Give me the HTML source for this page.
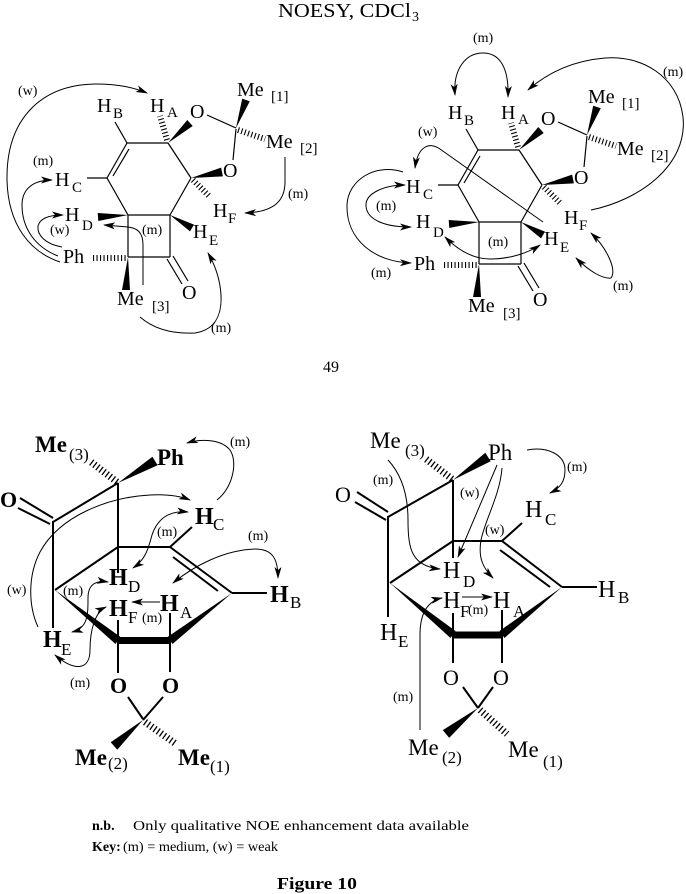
<!DOCTYPE html>
<html>
<head>
<meta charset="utf-8">
<style>
html,body{margin:0;padding:0;background:#fff;}
svg{display:block;}
text{font-family:"Liberation Serif",serif;fill:#000;}
.L{font-size:20px;}
.s{font-size:15px;}
.k{font-size:14px;}
.B{font-size:24px;font-weight:bold;}
.R{font-size:24px;}
.bs{font-size:17px;}
</style>
</head>
<body>
<svg width="686" height="894" viewBox="0 0 686 894" xmlns="http://www.w3.org/2000/svg">
<defs>
<marker id="ah" markerUnits="userSpaceOnUse" markerWidth="12" markerHeight="8" viewBox="0 0 12 8" refX="11" refY="4" orient="auto-start-reverse">
<path d="M0,0.5 L12,4 L0,7.5 L3,4 Z" fill="#000"/>
</marker>
</defs>

<!-- Title -->
<text x="278" y="17" style="font-size:20px" textLength="133" lengthAdjust="spacingAndGlyphs">NOESY, CDCl</text>
<text x="412" y="21" style="font-size:14px">3</text>

<!-- ===== TOP LEFT STRUCTURE ===== -->
<g>
<g stroke="#000" stroke-width="1.2" fill="none">
<line x1="127" y1="143" x2="168" y2="143"/>
<line x1="168" y1="143" x2="191" y2="178"/>
<line x1="191" y1="178" x2="170" y2="215"/>
<line x1="170" y1="215" x2="128" y2="215"/>
<line x1="128" y1="215" x2="107" y2="178"/>
<line x1="107" y1="178" x2="127" y2="143"/>
<line x1="113" y1="176" x2="129" y2="149"/>
<line x1="128" y1="215" x2="128" y2="257"/>
<line x1="128" y1="257" x2="170" y2="257"/>
<line x1="170" y1="257" x2="170" y2="215"/>
<line x1="167" y1="259" x2="182" y2="284"/>
<line x1="173" y1="256" x2="188" y2="281"/>
<line x1="127" y1="143" x2="115" y2="122"/>
<line x1="107" y1="178" x2="87" y2="178"/>
<line x1="207" y1="115" x2="236" y2="128"/>
<line x1="233" y1="160" x2="236" y2="129"/>
</g>
<g stroke="#000" fill="none" stroke-dasharray="1.1 2.4">
<line x1="167" y1="140" x2="160" y2="116" stroke-width="6"/>
<line x1="193" y1="180" x2="209" y2="196" stroke-width="6"/>
<line x1="238" y1="130" x2="265" y2="139" stroke-width="6"/>
<line x1="93" y1="258" x2="127" y2="258" stroke-width="6"/>
</g>
<g fill="#000">
<polygon points="128,215 98.3,221 97.7,213"/>
<polygon points="170,215 190,231.4 194,224.6"/>
<polygon points="168,143 192.7,126 187.3,120"/>
<polygon points="191,178 222.9,176.4 221.1,167.6"/>
<polygon points="236,128 249.8,101.3 242.2,98.7"/>
<polygon points="128,257 122,290 130,290"/>
</g>
<text class="L" x="150" y="112">H</text><text class="s" x="167" y="117">A</text>
<text class="L" x="97" y="112">H</text><text class="s" x="113" y="118">B</text>
<text class="L" x="55" y="186">H</text><text class="s" x="72" y="192">C</text>
<text class="L" x="65" y="221">H</text><text class="s" x="82" y="230">D</text>
<text class="L" x="193" y="238">H</text><text class="s" x="209" y="245">E</text>
<text class="L" x="213" y="217">H</text><text class="s" x="228" y="223">F</text>
<text class="L" x="190" y="118">O</text>
<text class="L" x="223" y="177">O</text>
<text class="L" x="182" y="299">O</text>
<text class="L" x="237" y="96">Me</text><text class="s" x="271" y="101">[1]</text>
<text class="L" x="266" y="148">Me</text><text class="s" x="300" y="153">[2]</text>
<text class="L" x="117" y="305">Me</text><text class="s" x="152" y="311">[3]</text>
<text class="L" x="63" y="263">Ph</text>
</g>

<!-- top-left arrows -->
<g stroke="#000" stroke-width="1" fill="none">
<path d="M 60 262 C 30 252, 8 225, 7 180 C 6 120, 40 85, 95 84 C 120 84, 135 88, 147 93" marker-end="url(#ah)"/>
<path d="M 58 256 C 35 247, 22 228, 22 205 C 22 190, 32 180, 52 180" marker-end="url(#ah)"/>
<path d="M 62 247 C 45 244, 37 235, 38 226 C 40 218, 50 215, 63 215" marker-end="url(#ah)"/>
<path d="M 143 285 L 143 245 C 143 232, 137 228, 128 227 L 104 225" marker-end="url(#ah)"/>
<path d="M 285 157 L 285 182 C 285 200, 275 212, 245 213" marker-end="url(#ah)"/>
<path d="M 140 317 C 155 330, 175 334, 195 333 C 215 330, 222 315, 221 295 C 220 278, 215 265, 208 253" marker-end="url(#ah)"/>
</g>
<text class="k" x="18" y="95">(w)</text>
<text class="k" x="33" y="165">(m)</text>
<text class="k" x="50" y="234">(w)</text>
<text class="k" x="142" y="234">(m)</text>
<text class="k" x="288" y="198">(m)</text>
<text class="k" x="211" y="332">(m)</text>

<!-- ===== TOP RIGHT STRUCTURE ===== -->
<g transform="translate(351,7)">
<g stroke="#000" stroke-width="1.2" fill="none">
<line x1="127" y1="143" x2="168" y2="143"/>
<line x1="168" y1="143" x2="191" y2="178"/>
<line x1="191" y1="178" x2="170" y2="215"/>
<line x1="170" y1="215" x2="128" y2="215"/>
<line x1="128" y1="215" x2="107" y2="178"/>
<line x1="107" y1="178" x2="127" y2="143"/>
<line x1="113" y1="176" x2="129" y2="149"/>
<line x1="128" y1="215" x2="128" y2="257"/>
<line x1="128" y1="257" x2="170" y2="257"/>
<line x1="170" y1="257" x2="170" y2="215"/>
<line x1="167" y1="259" x2="182" y2="284"/>
<line x1="173" y1="256" x2="188" y2="281"/>
<line x1="127" y1="143" x2="115" y2="122"/>
<line x1="107" y1="178" x2="87" y2="178"/>
<line x1="207" y1="115" x2="236" y2="128"/>
<line x1="233" y1="160" x2="236" y2="129"/>
</g>
<g stroke="#000" fill="none" stroke-dasharray="1.1 2.4">
<line x1="167" y1="140" x2="160" y2="116" stroke-width="6"/>
<line x1="193" y1="180" x2="209" y2="196" stroke-width="6"/>
<line x1="238" y1="130" x2="265" y2="139" stroke-width="6"/>
<line x1="93" y1="258" x2="127" y2="258" stroke-width="6"/>
</g>
<g fill="#000">
<polygon points="128,215 98.3,221 97.7,213"/>
<polygon points="170,215 190,231.4 194,224.6"/>
<polygon points="168,143 192.7,126 187.3,120"/>
<polygon points="191,178 222.9,176.4 221.1,167.6"/>
<polygon points="236,128 249.8,101.3 242.2,98.7"/>
<polygon points="128,257 122,290 130,290"/>
</g>
<text class="L" x="150" y="112">H</text><text class="s" x="167" y="117">A</text>
<text class="L" x="97" y="112">H</text><text class="s" x="113" y="118">B</text>
<text class="L" x="55" y="186">H</text><text class="s" x="72" y="192">C</text>
<text class="L" x="65" y="221">H</text><text class="s" x="82" y="230">D</text>
<text class="L" x="193" y="238">H</text><text class="s" x="209" y="245">E</text>
<text class="L" x="213" y="217">H</text><text class="s" x="228" y="223">F</text>
<text class="L" x="190" y="118">O</text>
<text class="L" x="223" y="177">O</text>
<text class="L" x="182" y="299">O</text>
<text class="L" x="237" y="96">Me</text><text class="s" x="271" y="101">[1]</text>
<text class="L" x="266" y="148">Me</text><text class="s" x="300" y="153">[2]</text>
<text class="L" x="117" y="305">Me</text><text class="s" x="152" y="311">[3]</text>
<text class="L" x="63" y="263">Ph</text>
</g>

<!-- top-right arrows -->
<g stroke="#000" stroke-width="1" fill="none">
<path d="M 455 95 C 453 70, 465 53, 483 53 C 500 53, 509 68, 508 97" marker-start="url(#ah)" marker-end="url(#ah)"/>
<path d="M 591 210 C 640 200, 688 165, 683 117 C 678 75, 640 55, 605 58 C 570 61, 545 75, 528 90" marker-end="url(#ah)"/>
<path d="M 543 222 L 440 149 C 430 142, 418 145, 415 168" marker-end="url(#ah)"/>
<path d="M 405 185 C 385 185, 365 193, 366 206 C 367 220, 385 227, 411 227" marker-start="url(#ah)" marker-end="url(#ah)"/>
<path d="M 403 172 C 375 163, 348 180, 347 205 C 346 240, 375 262, 411 263" marker-end="url(#ah)"/>
<path d="M 445 237 C 460 252, 475 259, 490 259 C 510 259, 528 253, 540 245" marker-start="url(#ah)" marker-end="url(#ah)"/>
<path d="M 576 258 C 590 272, 603 279, 611 278 C 617 270, 607 248, 591 233" marker-start="url(#ah)" marker-end="url(#ah)"/>
</g>
<text class="k" x="473" y="42">(m)</text>
<text class="k" x="663" y="76">(m)</text>
<text class="k" x="418" y="136">(w)</text>
<text class="k" x="376" y="210">(m)</text>
<text class="k" x="488" y="246">(m)</text>
<text class="k" x="371" y="277">(m)</text>
<text class="k" x="613" y="290">(m)</text>

<text x="323" y="372" style="font-size:16px">49</text>

<!-- ===== BOTTOM LEFT STRUCTURE ===== -->
<g stroke="#000" stroke-width="2" fill="none">
<line x1="118" y1="483" x2="53" y2="522"/>
<line x1="20" y1="498" x2="53" y2="518"/>
<line x1="18" y1="508" x2="50" y2="524"/>
<line x1="53" y1="521" x2="53" y2="628"/>
<line x1="118" y1="483" x2="118" y2="573"/>
<line x1="118" y1="547" x2="170" y2="547"/>
<line x1="170" y1="547" x2="232" y2="593"/>
<line x1="173" y1="557" x2="218" y2="591"/>
<line x1="55" y1="590" x2="118" y2="547"/>
<line x1="170" y1="547" x2="192" y2="527"/>
<line x1="232" y1="593" x2="267" y2="593"/>
<line x1="118" y1="620" x2="118" y2="641"/>
<line x1="170" y1="613" x2="170" y2="641"/>
<line x1="118" y1="641" x2="118" y2="673"/>
<line x1="170" y1="641" x2="170" y2="672"/>
<line x1="128" y1="697" x2="143" y2="719"/>
<line x1="163" y1="697" x2="143" y2="720"/>
<line x1="118" y1="640.5" x2="170" y2="640.5" stroke-width="7"/>
</g>
<g stroke="#000" fill="none" stroke-dasharray="1.3 2.6">
<line x1="117" y1="482" x2="91" y2="462" stroke-width="7"/>
<line x1="145" y1="722" x2="176" y2="744" stroke-width="7"/>
</g>
<g fill="#000">
<polygon points="118,483 157.6,465.3 152.4,456.7"/>
<polygon points="232,593 167.5,637 172.5,644"/>
<polygon points="55,590 115.5,644 120.5,637"/>
<polygon points="143,720 110.7,742.3 117.3,749.7"/>
</g>
<text class="B" x="35" y="452" style="font-size:23px">Me</text><text class="bs" x="69" y="460">(3)</text>
<text class="B" x="157" y="465" style="font-size:23px">Ph</text>
<text class="B" x="0" y="507" style="font-size:22px">O</text>
<text class="B" x="195" y="524">H</text><text class="bs" x="213" y="530">C</text>
<text class="B" x="270" y="602">H</text><text class="bs" x="290" y="608">B</text>
<text class="B" x="109" y="585">H</text><text class="bs" x="128" y="592">D</text>
<text class="B" x="109" y="616">H</text><text class="bs" x="128" y="623">F</text>
<text class="B" x="160" y="611">H</text><text class="bs" x="180" y="618">A</text>
<text class="B" x="43" y="647">H</text><text class="bs" x="61" y="655">E</text>
<text class="B" x="110" y="693" style="font-size:22px">O</text>
<text class="B" x="162" y="693" style="font-size:22px">O</text>
<text class="B" x="75" y="765" style="font-size:23px">Me</text><text class="bs" x="108" y="769">(2)</text>
<text class="B" x="178" y="765" style="font-size:23px">Me</text><text class="bs" x="210" y="772">(1)</text>

<g stroke="#000" stroke-width="1" fill="none">
<path d="M 217 500 C 233 487, 238 462, 230 450 C 222 440, 203 438, 187 443" marker-end="url(#ah)"/>
<path d="M 38 627 C 28 605, 28 575, 40 552 C 60 515, 110 497, 150 495 C 168 494, 180 496, 190 500" marker-end="url(#ah)"/>
<path d="M 188 512 C 168 510, 157 520, 152 535 C 148 550, 145 560, 133 568" marker-start="url(#ah)" marker-end="url(#ah)"/>
<path d="M 173 583 C 195 565, 225 550, 255 549 C 272 549, 278 558, 278 578" marker-start="url(#ah)" marker-end="url(#ah)"/>
<path d="M 160 602 L 132 602" marker-end="url(#ah)"/>
<path d="M 108 582 C 95 580, 88 585, 88 598 C 88 615, 88 628, 72 632" marker-start="url(#ah)" marker-end="url(#ah)"/>
<path d="M 106 607 C 95 612, 90 630, 90 650 C 90 670, 75 672, 55 655" marker-start="url(#ah)" marker-end="url(#ah)"/>
</g>
<text class="k" x="230" y="446">(m)</text>
<text class="k" x="7" y="594">(w)</text>
<text class="k" x="157" y="536">(m)</text>
<text class="k" x="248" y="540">(m)</text>
<text class="k" x="142" y="622">(m)</text>
<text class="k" x="63" y="595">(m)</text>
<text class="k" x="70" y="687">(m)</text>

<!-- ===== BOTTOM RIGHT STRUCTURE ===== -->
<g stroke="#000" stroke-width="2" fill="none">
<line x1="453" y1="480" x2="388" y2="517"/>
<line x1="357" y1="492" x2="388" y2="512"/>
<line x1="355" y1="502" x2="386" y2="520"/>
<line x1="388" y1="516" x2="388" y2="617"/>
<line x1="453" y1="480" x2="453" y2="558"/>
<line x1="453" y1="541" x2="502" y2="541"/>
<line x1="502" y1="541" x2="562" y2="587"/>
<line x1="500" y1="550" x2="550" y2="587"/>
<line x1="390" y1="583" x2="453" y2="541"/>
<line x1="502" y1="541" x2="522" y2="523"/>
<line x1="562" y1="587" x2="597" y2="587"/>
<line x1="502" y1="610" x2="502" y2="635"/>
<line x1="453" y1="613" x2="453" y2="635"/>
<line x1="453" y1="635" x2="453" y2="663"/>
<line x1="502" y1="635" x2="502" y2="663"/>
<line x1="463" y1="687" x2="478" y2="708"/>
<line x1="493" y1="687" x2="478" y2="708"/>
<line x1="453" y1="635" x2="502" y2="635" stroke-width="7"/>
</g>
<g stroke="#000" fill="none" stroke-dasharray="1.3 2.6">
<line x1="452" y1="479" x2="426" y2="459" stroke-width="7"/>
<line x1="480" y1="710" x2="507" y2="734" stroke-width="7"/>
</g>
<g fill="#000">
<polygon points="453,480 490.7,461.2 485.3,452.8"/>
<polygon points="562,587 499.5,631 504.5,638"/>
<polygon points="390,583 450.5,638 455.5,631"/>
<polygon points="478,708 442.8,730.1 449.2,737.9"/>
</g>
<text class="R" x="370" y="448" style="font-size:23px">Me</text><text class="bs" x="405" y="456">(3)</text>
<text class="R" x="488" y="460" style="font-size:23px">Ph</text>
<text class="R" x="335" y="502" style="font-size:22px">O</text>
<text class="R" x="525" y="517">H</text><text class="bs" x="545" y="525">C</text>
<text class="R" x="598" y="597">H</text><text class="bs" x="618" y="603">B</text>
<text class="R" x="443" y="578">H</text><text class="bs" x="463" y="587">D</text>
<text class="R" x="443" y="608">H</text><text class="bs" x="460" y="617">F</text>
<text class="R" x="493" y="608">H</text><text class="bs" x="513" y="617">A</text>
<text class="R" x="380" y="640">H</text><text class="bs" x="398" y="647">E</text>
<text class="R" x="443" y="685" style="font-size:22px">O</text>
<text class="R" x="493" y="685" style="font-size:22px">O</text>
<text class="R" x="408" y="755" style="font-size:23px">Me</text><text class="bs" x="442" y="763">(2)</text>
<text class="R" x="508" y="757" style="font-size:23px">Me</text><text class="bs" x="543" y="767">(1)</text>

<g stroke="#000" stroke-width="1" fill="none">
<path d="M 527 450 C 548 446, 565 455, 565 470 C 565 482, 560 488, 550 493" marker-end="url(#ah)"/>
<path d="M 388 460 C 402 475, 408 495, 408 520 C 408 550, 412 566, 440 569" marker-end="url(#ah)"/>
<path d="M 497 465 L 458 557" marker-end="url(#ah)"/>
<path d="M 502 468 C 500 495, 485 520, 481 540 C 478 558, 483 568, 493 578" marker-end="url(#ah)"/>
<path d="M 462 597 L 492 597" marker-end="url(#ah)"/>
<path d="M 420 730 L 420 635 C 420 612, 428 601, 442 598" marker-end="url(#ah)"/>
</g>
<text class="k" x="567" y="471">(m)</text>
<text class="k" x="373" y="484">(m)</text>
<text class="k" x="460" y="497">(w)</text>
<text class="k" x="485" y="534">(w)</text>
<text class="k" x="468" y="614">(m)</text>
<text class="k" x="393" y="701">(m)</text>

<!-- ===== Footer text ===== -->
<text x="92" y="830" style="font-size:14px;font-weight:bold">n.b.</text>
<text x="133" y="830" style="font-size:14px" textLength="336" lengthAdjust="spacingAndGlyphs">Only qualitative NOE enhancement data available</text>
<text x="92" y="851" style="font-size:14px;font-weight:bold">Key:</text>
<text x="123" y="851" style="font-size:14px" textLength="155" lengthAdjust="spacingAndGlyphs">(m) = medium, (w) = weak</text>
<text x="277" y="889" style="font-size:17px;font-weight:bold" textLength="80" lengthAdjust="spacingAndGlyphs">Figure 10</text>
</svg>
</body>
</html>
